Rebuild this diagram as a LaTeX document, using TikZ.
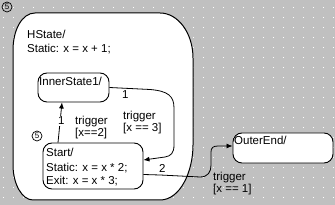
\documentclass[tikz,border=0pt]{standalone}
\usepackage{fontspec}
\setmainfont{Liberation Sans}
\usetikzlibrary{arrows.meta}
\definecolor{bggray}{HTML}{C0C0C0}
\begin{document}
\begin{tikzpicture}[x=1pt,y=-1pt,
  lbl/.style={anchor=base west, inner sep=0pt, font=\fontsize{11.5}{13}\selectfont},
  st/.style={draw, line width=0.9pt, fill=white, rounded corners=9pt},
  conn/.style={draw, line width=0.8pt, -{Latex[length=6pt,width=5pt]}},
  marker/.style={circle, draw, line width=0.7pt, inner sep=0pt, minimum size=10pt, font=\fontsize{8}{8}\selectfont}
]
\fill[bggray] (0,0) rectangle (335,205);
\useasboundingbox (0,0) rectangle (335,205);
\foreach \i in {0,...,33} \foreach \j in {0,...,20}
  \fill[white] (10*\i+2.5, 10*\j+7.5) rectangle ++(1,1);
% HState
\draw[line width=1pt, fill=white]
  (13,50) .. controls (13,30) and (22,13) .. (35,13)
  -- (160,13) .. controls (178,13) and (193,33) .. (193,58)
  -- (193,145) .. controls (193,172) and (180,200) .. (160,200)
  -- (33,200) .. controls (22,200) and (13,184) .. (13,165) -- cycle;
\node[lbl] (hs1) at (27,39) {HState/};
\node[lbl] (hs2) at (27,53) {Static: x = x + 1;};
% states
\node[st, minimum width=71pt, minimum height=29pt] (inner) at (73.5,87.5) {};
\node[lbl] (innert) at (39,86) {InnerState1/};
\node[st, minimum width=100pt, minimum height=46pt] (start) at (93,166) {};
\node[lbl] (st1) at (46,157) {Start/};
\node[lbl] (st2) at (46,171.5) {Static: x = x * 2;};
\node[lbl] (st3) at (46,184.5) {Exit: x = x * 3;};
\node[st, minimum width=100pt, minimum height=30pt] (outer) at (283,148) {};
\node[lbl] (outert) at (234,145) {OuterEnd/};
% markers
\node[marker] (m1) at (7,7) {5};
\node[marker] (m2) at (37,136) {5};
% connectors
\draw[conn] (inner.east) -- (150,89.5) .. controls (168,91) and (174,96) .. (174,108)
  -- (174,145) .. controls (174,153) and (171,156) .. (165,157) -- ([yshift=6pt]start.east);
\draw[conn] (58,0 |- start.north) -- (62,0 |- inner.south);
\draw[conn] ([yshift=-8.5pt]start.east) -- (160,175) -- (200,177)
  .. controls (208,177) and (211,172) .. (211,165) -- (211,152)
  .. controls (211,148) and (213,146) .. (218,146) -- ([yshift=2pt]outer.west);
% labels
\node[lbl] (l1) at (122,99) {1};
\node[lbl] (t3a) at (123,120) {trigger};
\node[lbl] (t3b) at (123,132) {[x == 3]};
\node[lbl, fill=white, inner sep=1pt] (l2) at (57,125) {1};
\node[lbl] (t2a) at (75,125) {trigger};
\node[lbl] (t2b) at (75,137) {[x==2]};
\node[lbl, fill=white, inner sep=1pt] (l3) at (158,173) {2};
\node[lbl] (t1a) at (213,181) {trigger};
\node[lbl] (t1b) at (213,193) {[x == 1]};
\end{tikzpicture}
\end{document}
